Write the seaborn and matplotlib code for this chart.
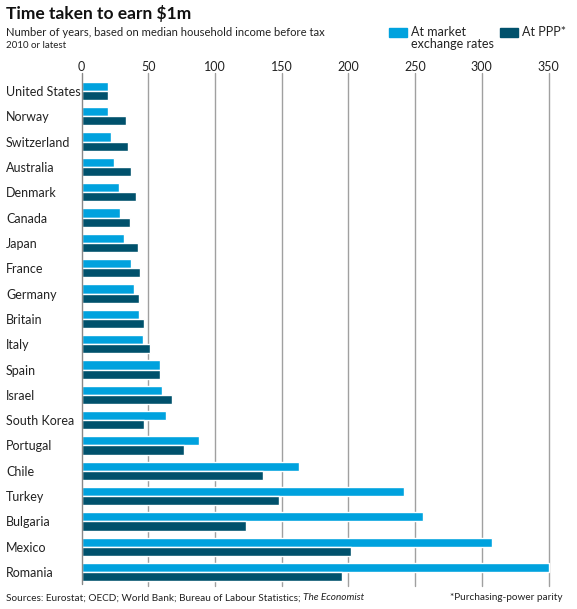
import seaborn as sns
import pandas as pd
import matplotlib.pyplot as plt
from matplotlib.patches import Rectangle

countries = ['United States', 'Norway', 'Switzerland', 'Australia', 'Denmark',
             'Canada', 'Japan', 'France', 'Germany', 'Britain', 'Italy', 'Spain',
             'Israel', 'South Korea', 'Portugal', 'Chile', 'Turkey', 'Bulgaria',
             'Mexico', 'Romania']
market = [20, 20, 22, 24, 28, 29, 32, 37, 39, 43, 46, 59, 60, 63, 88,
          163, 242, 256, 308, 350]
ppp = [20, 33, 35, 37, 41, 36, 42, 44, 43, 47, 51, 59, 68, 47, 77,
       136, 148, 123, 202, 195]
series = ['At market\nexchange rates', 'At PPP*']
ticks = [0, 50, 100, 150, 200, 250, 300, 350]

df = pd.DataFrame({
    'country': countries * 2,
    'years': market + ppp,
    'measure': [series[0]] * len(countries) + [series[1]] * len(countries),
})

sns.set_style('white')
plt.rcParams['font.family'] = ['Lato', 'DejaVu Sans']

light = '#00a2de'
dark = '#00516c'
ink = '#222222'

fig = plt.figure(figsize=(5.77, 6.09), dpi=100)
W, H = 577, 609
x0, x350 = 81.5, 548.5
xmax = 352
left = x0 / W
width = (x350 - x0) * xmax / 350 / W
top_px, bot_px = 76, 584
ax = fig.add_axes([left, 1 - bot_px / H, width, (bot_px - top_px) / H])

sns.barplot(data=df, y='country', x='years', hue='measure', orient='h',
            palette=[light, dark], width=0.72, saturation=1, ax=ax, zorder=3,
            legend=False)

ax.set_xlim(0, xmax)
ax.set_ylim(19.47, -0.59)
ax.set_xlabel('')
ax.set_ylabel('')
ax.set_xticks(ticks)
ax.xaxis.tick_top()
ax.tick_params(axis='x', length=0, pad=2.4, labelsize=9, colors=ink)
for t in ticks[1:]:
    ax.plot([t, t], [19.55, -0.71], color='#a0a0a0', lw=1, zorder=1, clip_on=False)
ax.plot([0, 0], [19.47, -0.71], color='#888888', lw=1, zorder=4, clip_on=False)
for s in ['top', 'right', 'bottom', 'left']:
    ax.spines[s].set_visible(False)

ax.tick_params(axis='y', length=0, pad=(x0 - 6) * 0.72, labelsize=9,
               colors=ink)
for lab in ax.get_yticklabels():
    lab.set_horizontalalignment('left')

# legend, drawn by hand in the top right corner
for (px, colr, label) in [(389, light, series[0]), (500, dark, series[1])]:
    fig.patches.append(Rectangle((px / W, 1 - 37 / H), 18 / W, 9 / H,
                                 transform=fig.transFigure, color=colr))
    fig.text((px + 22) / W, 1 - 26 / H, label, fontsize=9, va='top',
             linespacing=1.05, color=ink)

fig.text(6 / W, 1 - 13 / H, 'Time taken to earn \\$1m', fontsize=12.5,
         fontweight='bold', va='center', color='#111111')
fig.text(6 / W, 1 - 33 / H,
         'Number of years, based on median household income before tax',
         fontsize=8.1, va='center', color=ink)
fig.text(6 / W, 1 - 46 / H, '2010 or latest', fontsize=7, va='center',
         color=ink)

src = fig.text(6 / W, 1 - 598 / H,
               'Sources: Eurostat; OECD; World Bank; Bureau of Labour Statistics; ',
               fontsize=7.2, va='center', color=ink)
fig.canvas.draw()
bb = src.get_window_extent()
fig.text(bb.x1 / W, 1 - 598 / H, 'The Economist', fontsize=7.2, va='center',
         style='italic', color=ink)
fig.text(562 / W, 1 - 598 / H, '*Purchasing-power parity', fontsize=7.2,
         va='center', ha='right', color=ink)

fig.savefig('out.png', dpi=100)
